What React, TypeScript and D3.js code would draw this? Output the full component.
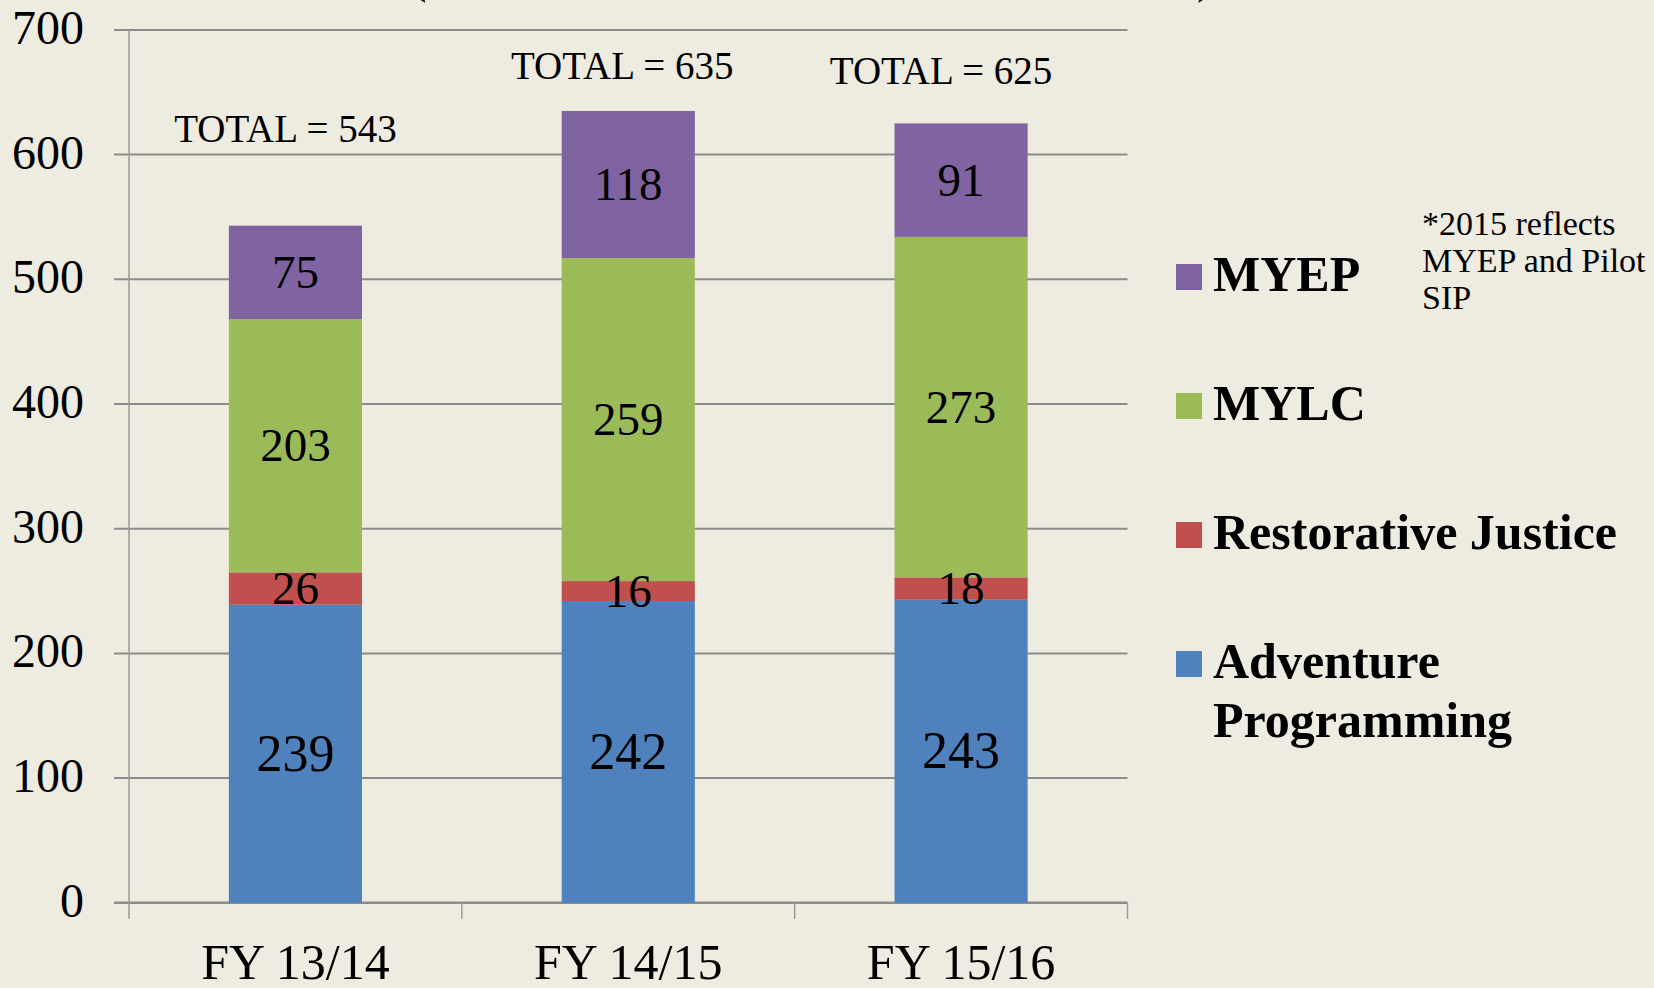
import React from "react";
import * as d3 from "d3";

const categories = ["FY 13/14", "FY 14/15", "FY 15/16"];
const adventure = [239, 242, 243];
const restorative = [26, 16, 18];
const mylc = [203, 259, 273];
const myep = [75, 118, 91];
const totals = [543, 635, 625];
const yTicks = [0, 100, 200, 300, 400, 500, 600, 700];

const seriesNames = ["Adventure Programming", "Restorative Justice", "MYLC", "MYEP"];
const seriesColors = ["#4F81BD", "#C0504D", "#9BBB59", "#8064A2"];
const seriesLabelSize = [52, 47, 47, 47];
// manual offsets of the "TOTAL" text boxes (dx from bar centre, dy from bar top)
const totalOffsets = [
  [-10, -84],
  [-6, -32],
  [-20, -39],
];
const noteLines = ["*2015 reflects", "MYEP and Pilot", "SIP"];

const W = 1654;
const H = 988;
const FONT = "'Liberation Serif', 'Times New Roman', serif";

export default function App() {
  const x = d3
    .scaleBand<string>()
    .domain(categories)
    .range([129, 1127.5])
    .paddingInner(0.6)
    .paddingOuter(0.3);
  const y = d3.scaleLinear().domain([0, 700]).range([902.8, 29.9]);

  const table = categories.map((c, i) => ({
    cat: c,
    "Adventure Programming": adventure[i],
    "Restorative Justice": restorative[i],
    MYLC: mylc[i],
    MYEP: myep[i],
  }));
  const stacked = d3.stack<any>().keys(seriesNames)(table);

  const step = x.step();
  const x0 = x.range()[0];
  const x1 = x.range()[1];
  const boundaries = d3.range(categories.length + 1).map((i) => x0 + i * step);

  // legend: top-to-bottom order is reversed series order
  const legendOrder = [3, 2, 1, 0];
  const legendBaselines = [291, 420, 549, 678];
  const legendLines = [["MYEP"], ["MYLC"], ["Restorative Justice"], ["Adventure", "Programming"]];

  return (
    <svg
      width={W}
      height={H}
      style={{ position: "absolute", left: 0, top: 0, display: "block" }}
      fontFamily={FONT}
    >
      <rect x={0} y={0} width={W} height={H} fill="#EEEBE0" />

      {/* cut-off title parentheses */}
      <text x={410} y={-8} fontSize={50} fill="#000">(</text>
      <text x={1197} y={-8} fontSize={50} fill="#000">)</text>

      {/* gridlines */}
      {yTicks.map((t) => (
        <line
          key={t}
          x1={114}
          x2={x1}
          y1={y(t)}
          y2={y(t)}
          stroke="#8C8C8C"
          strokeWidth={t === 0 ? 2.5 : 2}
        />
      ))}
      {/* y axis line */}
      <line x1={x0} x2={x0} y1={y(700)} y2={y(0)} stroke="#9A9A9A" strokeWidth={1.5} />
      {/* x ticks */}
      {boundaries.map((bx, i) => (
        <line key={i} x1={bx} x2={bx} y1={y(0)} y2={y(0) + 16} stroke="#9A9A9A" strokeWidth={1.5} />
      ))}

      {/* y tick labels */}
      {yTicks.map((t) => (
        <text key={t} x={84} y={y(t) + 14} fontSize={48} textAnchor="end" fill="#000">
          {t}
        </text>
      ))}

      {/* bars */}
      {stacked.map((s, si) =>
        s.map((d, i) => (
          <rect
            key={`${si}-${i}`}
            x={x(categories[i])}
            y={y(d[1])}
            width={x.bandwidth()}
            height={y(d[0]) - y(d[1])}
            fill={seriesColors[si]}
          />
        ))
      )}

      {/* value labels */}
      {stacked.map((s, si) =>
        s.map((d, i) => {
          const cx = (x(categories[i]) as number) + x.bandwidth() / 2;
          const cy = (y(d[0]) + y(d[1])) / 2;
          const fs = seriesLabelSize[si];
          return (
            <text
              key={`l-${si}-${i}`}
              x={cx}
              y={cy + fs * 0.33}
              fontSize={fs}
              textAnchor="middle"
              fill="#000"
            >
              {d[1] - d[0]}
            </text>
          );
        })
      )}

      {/* totals */}
      {totals.map((t, i) => {
        const cx = (x(categories[i]) as number) + x.bandwidth() / 2;
        return (
          <text
            key={`t-${i}`}
            x={cx + totalOffsets[i][0]}
            y={y(t) + totalOffsets[i][1]}
            fontSize={39}
            textAnchor="middle"
            fill="#000"
          >
            {`TOTAL = ${t}`}
          </text>
        );
      })}

      {/* x labels */}
      {categories.map((c) => (
        <text
          key={c}
          x={(x(c) as number) + x.bandwidth() / 2}
          y={979}
          fontSize={50}
          textAnchor="middle"
          fill="#000"
        >
          {c}
        </text>
      ))}

      {/* legend */}
      {legendOrder.map((si, k) => (
        <g key={`lg-${si}`}>
          <rect x={1176} y={legendBaselines[k] - 27} width={26} height={26} fill={seriesColors[si]} />
          {legendLines[k].map((ln, j) => (
            <text
              key={j}
              x={1213}
              y={legendBaselines[k] + j * 59}
              fontSize={50}
              fontWeight="bold"
              fill="#000"
            >
              {ln}
            </text>
          ))}
        </g>
      ))}

      {/* note */}
      {noteLines.map((ln, i) => (
        <text key={ln} x={1422} y={235 + i * 37} fontSize={34} fill="#000">
          {ln}
        </text>
      ))}
    </svg>
  );
}
